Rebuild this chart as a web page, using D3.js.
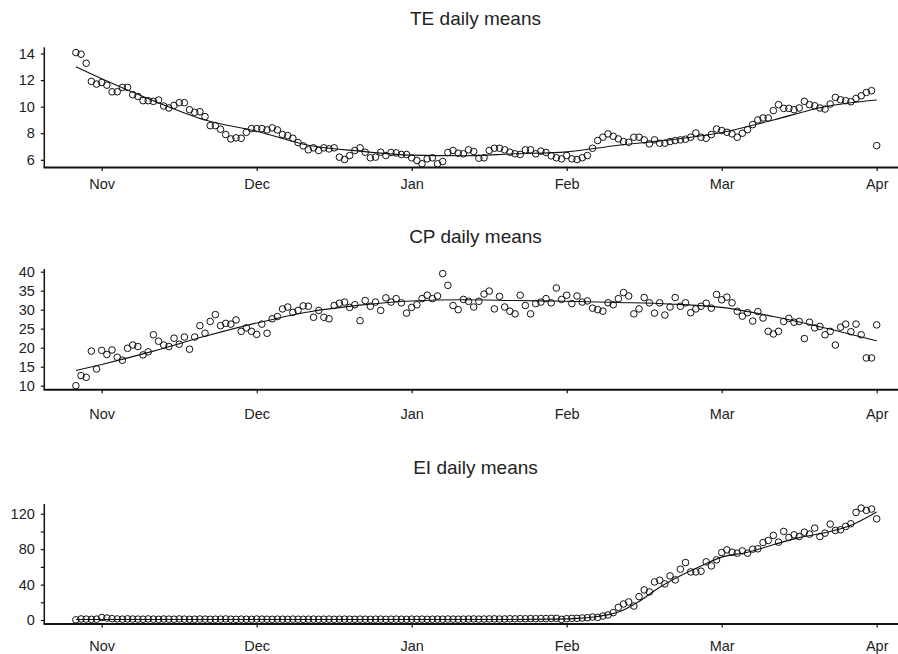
<!DOCTYPE html>
<html>
<head>
<meta charset="utf-8">
<script src="https://cdn.jsdelivr.net/npm/d3@7"></script>
<style>
  html, body { margin: 0; padding: 0; background: #fff; }
  svg { display: block; font-family: "Liberation Sans", Arial, Helvetica, sans-serif; }
</style>
</head>
<body>
<svg id="chart" width="898" height="654"></svg>
<script>
// ---- data ----
const monthLabels = ["Nov", "Dec", "Jan", "Feb", "Mar", "Apr"];
const monthTickDays = [0, 30, 60, 90, 120, 150];
const firstDay = -5; // first observation is 5 days before the "Nov" tick

const teValues = [
  14.07, 13.95, 13.27, 11.9, 11.7, 11.82, 11.62, 11.12, 11.12, 11.45,
  11.45, 10.9, 10.77, 10.45, 10.45, 10.4, 10.5, 10.05, 9.9, 10.1,
  10.3, 10.3, 9.77, 9.57, 9.62, 9.25, 8.57, 8.57, 8.3, 7.9,
  7.57, 7.65, 7.62, 8.07, 8.35, 8.35, 8.35, 8.25, 8.4, 8.25,
  7.9, 7.82, 7.62, 7.3, 7.05, 6.75, 6.9, 6.7, 6.9, 6.82,
  6.9, 6.2, 6.02, 6.32, 6.7, 6.9, 6.57, 6.15, 6.2, 6.57,
  6.32, 6.55, 6.52, 6.4, 6.4, 6.15, 5.95, 5.7, 6.07, 6.15,
  5.7, 5.87, 6.55, 6.7, 6.5, 6.45,
  6.75, 6.62, 6.12, 6.15, 6.7, 6.87, 6.87, 6.75, 6.57, 6.45,
  6.4, 6.75, 6.75, 6.45, 6.65, 6.55, 6.3, 6.15, 6.07, 6.32,
  6.07, 6.02, 6.15, 6.32, 6.87, 7.45, 7.7, 7.95, 7.77, 7.57,
  7.37, 7.32, 7.7, 7.7, 7.5, 7.2, 7.5, 7.25, 7.25, 7.37,
  7.45, 7.5, 7.55, 7.7, 8.02, 7.7, 7.62, 7.9, 8.32, 8.2,
  8.07, 7.95, 7.7, 8.0, 8.27, 8.65, 9.0, 9.15, 9.15, 9.7,
  10.15, 9.87, 9.87, 9.77, 9.9, 10.4, 10.15, 10.07, 9.9, 9.82,
  10.2, 10.7, 10.52, 10.45, 10.37, 10.62, 10.82, 11.07, 11.2, 7.07
];

const cpValues = [
  10.0, 12.66, 12.2, 19.1, 14.4, 19.3, 18.2, 19.4, 17.5, 16.7,
  19.85, 20.7, 20.3, 18.1, 18.9, 23.4, 21.7, 20.7, 20.3, 22.5,
  20.9, 22.8, 19.6, 22.8, 25.8, 23.8, 26.9, 28.7, 25.8, 26.4,
  26.2, 27.3, 24.3, 25.2, 24.3, 23.5, 26.2, 23.8, 27.6, 28.2,
  30.2, 30.7, 29.3, 29.8, 31.0, 30.9, 28.0, 29.8, 28.0,
  27.6, 31.1, 31.7, 32.0, 30.6, 31.3, 27.1, 32.4, 30.9, 32.0,
  29.8, 33.1, 32.0, 32.9, 31.8, 29.1, 30.6, 31.3, 32.9, 33.8,
  32.9, 33.6, 39.5, 36.4, 31.1, 30.0, 32.7, 32.2, 30.7, 32.2,
  34.1, 34.9, 30.2, 33.5, 30.7, 29.6, 28.9, 33.8, 31.1, 28.9,
  31.6, 32.0, 32.9, 31.8, 35.7, 32.7, 33.8, 31.6, 33.6, 32.0,
  32.3, 30.4, 30.0, 29.6,
  31.8, 31.3, 32.9, 34.5, 33.6, 28.9, 30.2, 33.2, 31.8, 29.1,
  31.8, 28.6, 30.7, 33.2, 30.9, 31.8, 29.2, 30.2, 30.9, 31.7,
  30.4, 34.0, 32.6, 33.3, 31.8, 29.6, 28.3, 29.2, 27.0, 29.5,
  27.8, 24.3, 23.6, 24.3, 26.9, 27.7, 26.7, 26.9, 22.4, 26.7,
  25.2, 25.6, 23.4, 24.3, 20.7, 25.4, 26.2, 24.2, 26.2, 23.4,
  17.3, 17.3, 26.0
];

const eiValues = [
  0.2, 1.2, 1.0, 0.8, 1.0, 2.8, 2.2, 1.5, 1.2, 1.0,
  1.3, 1.1, 1.0, 0.9, 1.2, 1.0, 0.8, 1.1, 1.0, 0.9,
  1.2, 1.0, 0.8, 0.9, 1.1, 1.0, 0.8, 0.9, 1.0, 1.2,
  0.9, 0.8, 1.0, 0.9, 0.8, 1.1, 1.0, 0.9, 0.8, 1.0,
  0.9, 0.8, 1.0, 0.9, 0.8, 0.9, 1.0, 0.8, 0.9, 1.0,
  0.8, 0.9, 1.0, 0.9, 0.8, 1.0, 0.9, 0.8, 0.9, 1.0,
  0.8, 0.9, 1.0, 0.9, 0.8, 1.0, 0.9, 1.0, 0.8, 0.9,
  1.0, 0.9, 1.1, 1.0, 0.9, 1.0, 1.1, 1.2, 1.0, 1.1,
  1.2, 1.3, 1.1, 1.2, 1.4, 1.3, 1.5, 1.4, 1.6, 1.5,
  1.7, 1.6, 1.8, 1.9,
  0.75, 1.5, 1.9, 1.9, 2.3, 2.6, 3.4, 3.0, 4.5, 5.7,
  8.3, 14.3, 18.1, 20.4, 15.8, 26.4, 34.0, 31.7, 43.0, 44.9,
  40.8, 49.8, 45.3, 57.4, 64.9, 54.3, 54.3, 55.1, 65.7, 61.1, 67.9,
  76.2, 79.2, 76.6, 75.5, 78.1, 75.5, 80.0, 80.4, 87.5, 89.8,
  95.5, 87.9, 100.0, 93.2, 96.2, 94.3, 99.2, 97.0, 103.8, 94.3,
  98.1, 108.3, 101.1, 101.9, 105.7, 108.7, 121.5, 126.4, 123.8, 125.3, 114.3
];

// smooth fitted curves, read at knot days
const teFitDays = [-5, 0, 10, 20, 30, 40, 50, 60, 70, 80, 90, 100, 110, 120, 130, 140, 150];
const teFitValues = [13.0, 12.1, 10.45, 9.0, 8.15, 7.1, 6.65, 6.35, 6.3, 6.45, 6.6, 7.1, 7.5, 8.05, 9.0, 10.0, 10.5];

const cpFitDays = [-5, 0, 10, 20, 30, 40, 50, 60, 70, 80, 90, 100, 110, 120, 130, 140, 150];
const cpFitValues = [14.0, 15.6, 19.1, 23.0, 26.5, 29.4, 31.2, 32.3, 32.6, 32.4, 32.2, 31.9, 31.5, 30.6, 28.2, 25.2, 21.8];

const eiFitDays = [-5, 20, 40, 60, 80, 88, 92, 96, 100, 104, 108, 112, 116, 120, 125, 130, 135, 140, 145, 150];
const eiFitValues = [0.5, 0.5, 0.5, 0.5, 0.6, 1.0, 1.8, 4.0, 9.0, 21.0, 37.0, 50.0, 61.0, 71.0, 76.5, 85.0, 93.0, 98.5, 107.0, 122.0];

const teTicks = [6, 8, 10, 12, 14];
const cpTicks = [10, 15, 20, 25, 30, 35, 40];
const eiTicks = [0, 20, 40, 60, 80, 100, 120];
const eiTickLabels = ["0", "", "40", "", "80", "", "120"];

const titles = ["TE daily means", "CP daily means", "EI daily means"];

// ---- drawing ----
const svg = d3.select("#chart");
const W = 898;
const axisX = 44.3;
const x = d3.scaleLinear().domain([0, 150]).range([101.7, 876.7]);
const ink = "#111";
const textInk = "#222";

const panels = [
  { title: titles[0], values: teValues, fitD: teFitDays, fitV: teFitValues,
    domain: [5.42, 14.47], base: 167.5, top: 47.3, ticks: teTicks, labels: teTicks.map(String),
    titleY: 25, xLabelY: 188.5 },
  { title: titles[1], values: cpValues, fitD: cpFitDays, fitV: cpFitValues,
    domain: [8.95, 40.7], base: 389.7, top: 269, ticks: cpTicks, labels: cpTicks.map(String),
    titleY: 243, xLabelY: 419.5 },
  { title: titles[2], values: eiValues, fitD: eiFitDays, fitV: eiFitValues,
    domain: [-4.5, 131], base: 624, top: 504, ticks: eiTicks, labels: eiTickLabels,
    titleY: 474, xLabelY: 651 }
];

panels.forEach(p => {
  const y = d3.scaleLinear().domain(p.domain).range([p.base, p.top]);
  const g = svg.append("g");

  // title
  g.append("text")
    .attr("x", 475.5).attr("y", p.titleY)
    .attr("text-anchor", "middle")
    .attr("font-size", 19).attr("fill", textInk)
    .text(p.title);

  // y axis
  const yAxis = d3.axisLeft(y).tickValues(p.ticks)
    .tickFormat((d, i) => p.labels[i]).tickSize(3.5).tickPadding(6);
  const ga = g.append("g").attr("transform", `translate(${axisX},0)`).call(yAxis);
  ga.select(".domain").remove();
  ga.selectAll(".tick line").attr("stroke", ink).attr("stroke-width", 1.2);
  ga.selectAll(".tick text").attr("font-size", 14.5).attr("fill", textInk)
    .attr("font-family", "Liberation Sans, Arial, sans-serif");
  g.append("line").attr("x1", axisX).attr("x2", axisX)
    .attr("y1", p.top).attr("y2", p.base).attr("stroke", ink).attr("stroke-width", 1.5);

  // x axis
  const xAxis = d3.axisBottom(x).tickValues(monthTickDays)
    .tickFormat((d, i) => monthLabels[i]).tickSize(3.5).tickPadding(0);
  const gx = g.append("g").attr("transform", `translate(0,${p.base})`).call(xAxis);
  gx.select(".domain").remove();
  gx.selectAll(".tick line").attr("stroke", ink).attr("stroke-width", 1.2);
  gx.selectAll(".tick text").attr("font-size", 14.5).attr("fill", textInk)
    .attr("font-family", "Liberation Sans, Arial, sans-serif")
    .attr("dy", null).attr("y", p.xLabelY - p.base);
  g.append("line").attr("x1", axisX - 0.75).attr("x2", W)
    .attr("y1", p.base).attr("y2", p.base).attr("stroke", ink).attr("stroke-width", 2);

  // fitted curve
  const fit = p.fitD.map((d, i) => [d, p.fitV[i]]);
  g.append("path")
    .datum(fit)
    .attr("fill", "none").attr("stroke", ink).attr("stroke-width", 1.1)
    .attr("d", d3.line().x(d => x(d[0])).y(d => y(d[1])).curve(d3.curveMonotoneX));

  // points
  g.append("g").selectAll("circle")
    .data(p.values)
    .join("circle")
    .attr("cx", (d, i) => x(firstDay + i))
    .attr("cy", d => y(d))
    .attr("r", 3.3)
    .attr("fill", "none").attr("stroke", ink).attr("stroke-width", 1);
});
</script>
</body>
</html>
